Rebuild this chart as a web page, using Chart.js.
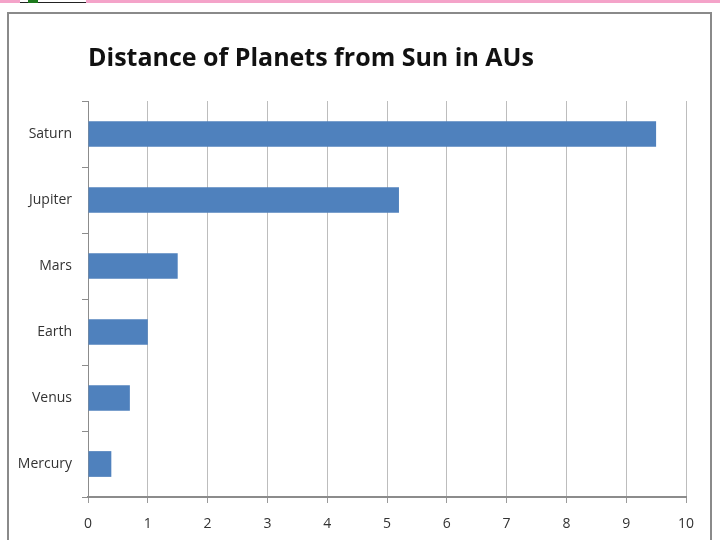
<!DOCTYPE html>
<html>
<head>
<meta charset="utf-8">
<script src="https://cdn.jsdelivr.net/npm/chart.js@4/dist/chart.umd.min.js"></script>
<style>
  html, body { margin: 0; padding: 0; background: #fff; }
  #page { position: relative; width: 720px; height: 540px; overflow: hidden; }
  #strip { position: absolute; left: 0; top: 0; width: 720px; height: 3px; background: #f4a3c9; }
  #logo { position: absolute; left: 20px; top: 0; width: 66px; height: 2px; background: #fff; border-bottom: 1px solid #222; }
  #logo span { position: absolute; left: 8px; top: 0; width: 10px; height: 3px; background: #1d7a1d; }
  #frame { position: absolute; left: 7px; top: 12px; width: 705px; height: 540px; border: 2px solid #8a8a8a; border-bottom: none; box-sizing: border-box; }
  #wrap { position: absolute; left: 0; top: 0; width: 720px; height: 540px; }
</style>
</head>
<body>
<div id="page">
  <div id="strip"></div>
  <div id="logo"><span></span></div>
  <div id="frame"></div>
  <div id="wrap"><canvas id="c" width="720" height="540"></canvas></div>
</div>
<script>
// planets top to bottom as they appear in the chart
const PLANETS = ["Saturn", "Jupiter", "Mars", "Earth", "Venus", "Mercury"];
const DISTANCE_AU = [9.5, 5.2, 1.5, 1.0, 0.7, 0.39];
const X_MIN = 0, X_MAX = 10, X_STEP = 1;
const TITLE = "Distance of Planets from Sun in AUs";

const tickFont = { family: "'Open Sans', sans-serif", size: 14 };

new Chart(document.getElementById("c").getContext("2d"), {
  type: "bar",
  data: {
    labels: PLANETS,
    datasets: [{
      data: DISTANCE_AU,
      backgroundColor: "#4f81bd",
      borderWidth: 0,
      categoryPercentage: 1,
      barPercentage: 0.39,
    }],
  },
  options: {
    indexAxis: "y",
    responsive: false,
    animation: false,
    devicePixelRatio: 1,
    layout: { padding: { left: 10, right: 34, top: 0, bottom: 0 } },
    plugins: {
      legend: { display: false },
      tooltip: { enabled: false },
      title: {
        display: true, text: TITLE, align: "start", fullSize: false,
        color: "#111",
        font: { family: "'Open Sans', sans-serif", size: 25, weight: "bold" },
        padding: { top: 44, bottom: 27 },
      },
    },
    scales: {
      x: {
        min: X_MIN, max: X_MAX,
        ticks: { stepSize: X_STEP, color: "#333", font: tickFont, padding: 13 },
        grid: { color: "#bdbdbd", lineWidth: 1, tickLength: 6, tickColor: "#9a9a9a" },
        border: { color: "#8c8c8c", width: 2 },
        afterFit: s => { s.height = 43; },
      },
      y: {
        ticks: { color: "#333", font: tickFont, padding: 10 },
        grid: { drawOnChartArea: false, tickLength: 6, tickColor: "#8c8c8c" },
        border: { color: "#8c8c8c", width: 1 },
        afterFit: s => { s.width = 78; },
      },
    },
  },
});
</script>
</body>
</html>
